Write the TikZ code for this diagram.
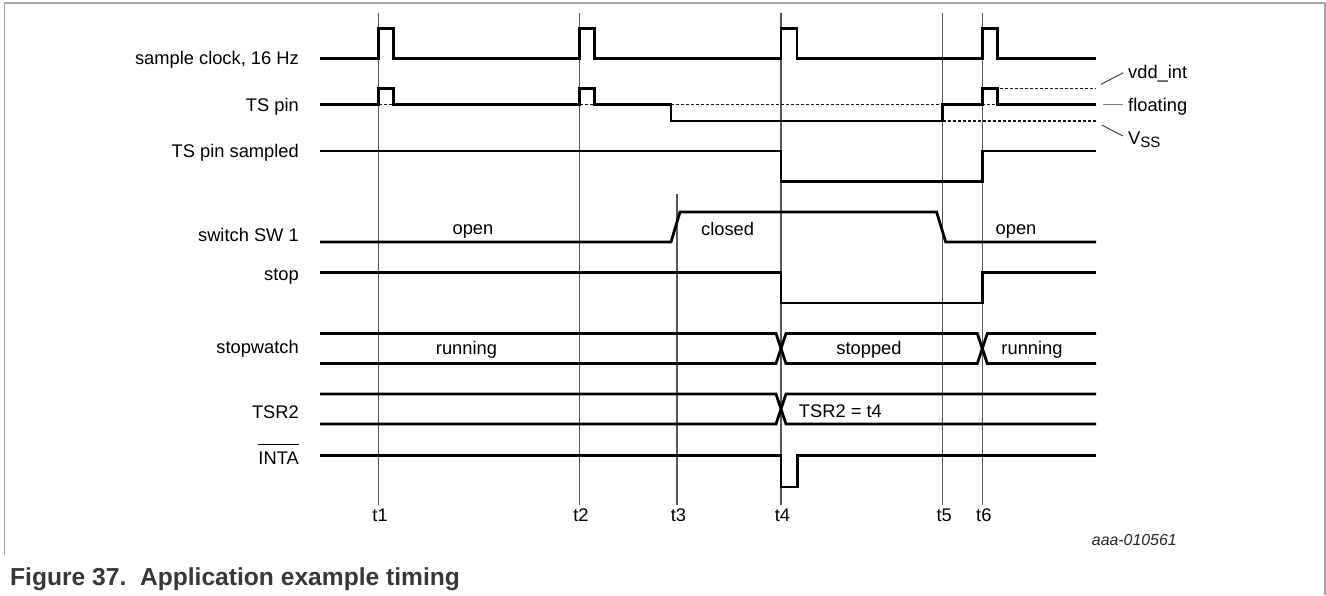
\documentclass[tikz,border=0pt]{standalone}
\usepackage{fontspec}
\setmainfont{Liberation Sans}
\begin{document}
\begin{tikzpicture}[x=1pt,y=-1pt,
  sig/.style={line width=2.8pt, line join=miter, line cap=butt},
  tline/.style={line width=1.1pt, draw=black!65},
  dsh/.style={line width=1.4pt, dash pattern=on 3pt off 2pt, draw=black!90},
  leader/.style={line width=0.9pt, draw=black!80},
  lbl/.style={font=\fontsize{18.3}{22}\selectfont, inner sep=0pt, anchor=base east},
  txt/.style={font=\fontsize{18.3}{22}\selectfont, inner sep=0pt, anchor=base},
  rtxt/.style={font=\fontsize{18.3}{22}\selectfont, inner sep=0pt, anchor=base west},
  frame/.style={line width=1.2pt, draw=black!35}]
\useasboundingbox (0,0) rectangle (1326,595);
% frame
\draw[frame] (4.5,555) -- (4.5,3) -- (1325,3) -- (1325,595);
% time lines
\foreach \n/\x/\t in {1/378.6/13,2/579.5/13,3/677/194,4/781/13,5/942.7/13,6/982.3/13}{
  \coordinate (top\n) at (\x,\t);
  \coordinate (bot\n) at (\x,505);
  \draw[tline] (top\n) -- (bot\n);
  \node[txt] (tl\n) at (\x+1.5,521.5) {t\n};
}
% signal labels
\node[lbl] (Lclk) at (299,64.8) {sample clock, 16 Hz};
\node[lbl] (Lts) at (299,111.2) {TS pin};
\node[lbl] (Ltss) at (299,157.5) {TS pin sampled};
\node[lbl] (Lsw) at (299,241.7) {switch SW 1};
\node[lbl] (Lstop) at (299,280) {stop};
\node[lbl] (Lsw2) at (299,353.5) {stopwatch};
\node[lbl] (Ltsr) at (299,418.5) {TSR2};
\node[lbl] (Linta) at (299,464.5) {INTA};
\draw[line width=1.3pt] ([yshift=7.3pt]Linta.north west) -- ([yshift=7.3pt]Linta.north east);
% sample clock
\draw[sig] (320,58.3) -- (378.6,58.3) -- (378.6,28.3) -- (393.5,28.3) -- (393.5,58.3)
  -- (579.5,58.3) -- (579.5,28.3) -- (594.6,28.3) -- (594.6,58.3)
  -- (781,58.3) -- (781,28.3) -- (797,28.3) -- (797,58.3)
  -- (982.3,58.3) -- (982.3,28.3) -- (997.5,28.3) -- (997.5,58.3) -- (1096,58.3);
% TS pin
\draw[dsh] (378.6,104.3) -- (393.5,104.3);
\draw[dsh] (579.5,104.3) -- (594.6,104.3);
\draw[dsh] (671,104.3) -- (942.7,104.3);
\draw[dsh] (982.3,104.3) -- (997.5,104.3);
\draw[dsh] (1000,88.5) -- (1096,88.5);
\draw[dsh] (942.7,121) -- (1096,121);
\draw[sig] (320,104.3) -- (378.6,104.3) -- (378.6,88.5) -- (393.5,88.5) -- (393.5,104.3)
  -- (579.5,104.3) -- (579.5,88.5) -- (594.6,88.5) -- (594.6,104.3)
  -- (671,104.3) -- (671,121) -- (942.7,121) -- (942.7,104.3)
  -- (982.3,104.3) -- (982.3,88.5) -- (997.5,88.5) -- (997.5,104.3) -- (1096,104.3);
% level labels
\node[rtxt] (vdd) at (1128,78.3) {vdd\_int};
\node[rtxt] (flt) at (1128,111.6) {floating};
\node[rtxt] (vss) at (1128,144.8) {V\raisebox{-3pt}{\fontsize{15}{17}\selectfont SS}};
\coordinate (vddA) at (1101,84.3);
\coordinate (fltA) at (1103,104.3);
\coordinate (vssA) at (1101.7,125);
\draw[leader] (vddA) -- (1123.3,72.7);
\draw[line width=1.4pt, draw=black!50] (fltA) -- (1123,104.3);
\draw[leader] (vssA) -- (1123,136);
% TS pin sampled
\draw[sig] (320,151) -- (781,151) -- (781,181.7) -- (982.3,181.7) -- (982.3,151) -- (1096,151);
% switch
\draw[sig] (320,242) -- (671,242) -- (680,212) -- (936.6,212) -- (945.7,242) -- (1096,242);
\node[txt] (open1) at (473,234) {open};
\node[txt] (closed) at (727.6,235) {closed};
\node[txt] (open2) at (1016,234) {open};
% stop
\draw[sig] (320,272.7) -- (781,272.7) -- (781,303) -- (982.3,303) -- (982.3,272.7) -- (1096,272.7);
% stopwatch
\draw[sig] (320,333.5) -- (776,333.5) -- (786,363.5) -- (977.3,363.5) -- (987.3,333.5) -- (1096,333.5);
\draw[sig] (320,363.5) -- (776,363.5) -- (786,333.5) -- (977.3,333.5) -- (987.3,363.5) -- (1096,363.5);
\node[txt] (run1) at (466.5,354.5) {running};
\node[txt] (stp) at (869,354.5) {stopped};
\node[txt] (run2) at (1032,354.5) {running};
% TSR2
\draw[sig] (320,394) -- (776,394) -- (786,424) -- (1096,424);
\draw[sig] (320,424) -- (776,424) -- (786,394) -- (1096,394);
\node[rtxt] (tsrv) at (798.7,417) {TSR2 = t4};
% INTA
\draw[sig] (320,455.5) -- (781,455.5) -- (781,487) -- (797.4,487) -- (797.4,455.5) -- (1096,455.5);
% ids
\node[inner sep=0pt, anchor=base west, font=\fontsize{15.9}{18}\selectfont\itshape, text=black!85] (code) at (1091.7,545) {aaa-010561};
\node[inner sep=0pt, anchor=base west, font=\fontsize{24.6}{30}\selectfont\bfseries, text=black!78] (cap) at (10,585) {Figure 37.\ \ Application example timing};
\end{tikzpicture}
\end{document}
